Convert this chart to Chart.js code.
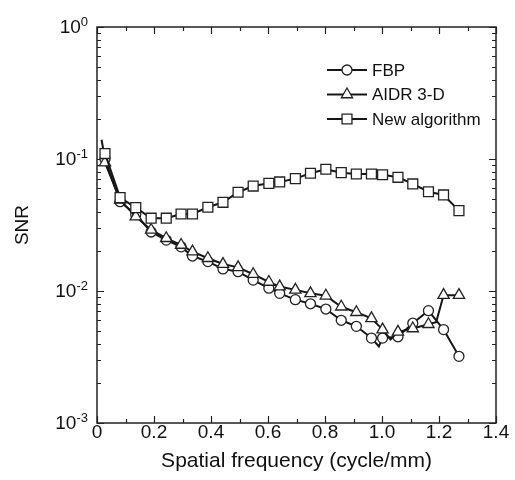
<!DOCTYPE html>
<html>
<head>
<meta charset="utf-8">
<script src="https://cdn.jsdelivr.net/npm/chart.js@4.4.1/dist/chart.umd.min.js"></script>
<style>
  html, body { margin: 0; padding: 0; background: #fff; }
  #wrap { width: 515px; height: 480px; }
</style>
</head>
<body>
<div id="wrap"><canvas id="snrChart" width="515" height="480"></canvas></div>
<script>
// spatial frequency of the marked points (cycle/mm)
var freq = [0.028, 0.081, 0.136, 0.19, 0.243, 0.295, 0.335, 0.389, 0.442, 0.495, 0.548, 0.603, 0.641,
            0.696, 0.749, 0.803, 0.857, 0.91, 0.963, 1.002, 1.056, 1.108, 1.163, 1.216, 1.27];

var snrFBP = [0.10, 0.0475, 0.038, 0.028, 0.0243, 0.0216, 0.0184, 0.0167, 0.0147, 0.014, 0.0121, 0.0105, 0.0096,
              0.0086, 0.0080, 0.0073, 0.0060, 0.0054, 0.0044, 0.0044, 0.0045, 0.0057, 0.0071, 0.0051, 0.0032];
var snrAIDR = [0.094, 0.049, 0.0366, 0.029, 0.0251, 0.0223, 0.0199, 0.0177, 0.016, 0.0151, 0.0134, 0.0117, 0.0108,
               0.0102, 0.0096, 0.0092, 0.0076, 0.0069, 0.0062, 0.0051, 0.0049, 0.0052, 0.0056, 0.0093, 0.0093];
var snrNew = [0.110, 0.051, 0.0428, 0.0356, 0.0356, 0.0383, 0.0383, 0.0431, 0.047, 0.056, 0.0624, 0.0654, 0.067,
              0.071, 0.078, 0.0836, 0.0788, 0.077, 0.077, 0.076, 0.0727, 0.0647, 0.0565, 0.0534, 0.0406];

// points on the curves that carry no marker
var fbpExtraX = [0.016, 0.989];
var fbpExtraY = [0.14, 0.0038];
var aidrExtraX = [1.03, 1.19];
var aidrExtraY = [0.0043, 0.0058];

var xTicks = [0, 0.2, 0.4, 0.6, 0.8, 1, 1.2, 1.4];
var yDecades = [0, -1, -2, -3];

var seriesNames = ["FBP", "AIDR 3-D", "New algorithm"];
var seriesMarkers = ["circle", "triangle", "rect"];
var markerSize = { circle: 5, triangle: 6.5, rect: 7 };

function buildPoints(xs, ys, exX, exY) {
    var pts = [];
    for (var i = 0; i < xs.length; i++) {
        pts.push({ x: xs[i], y: ys[i], extra: false });
    }
    for (var j = 0; j < exX.length; j++) {
        pts.push({ x: exX[j], y: exY[j], extra: true });
    }
    pts.sort(function (a, b) { return a.x - b.x; });
    return pts;
}

function makeSet(label, pts, style, order) {
    return {
        label: label,
        data: pts,
        order: order,
        borderColor: "#161616",
        borderWidth: 2,
        tension: 0,
        pointStyle: style,
        pointBackgroundColor: "#ffffff",
        pointBorderColor: "#222222",
        pointBorderWidth: 1.3,
        pointRadius: function (ctx) {
            return ctx.raw && ctx.raw.extra ? 0 : markerSize[style];
        },
        pointHoverRadius: 0
    };
}

var frameAndTicks = {
    id: "frameAndTicks",
    beforeDatasetsDraw: function (chart) {
        var ctx = chart.ctx;
        var a = chart.chartArea;
        var xs = chart.scales.x;
        var ys = chart.scales.y;
        ctx.save();
        ctx.strokeStyle = "#222";
        ctx.lineWidth = 1.2;
        ctx.beginPath();
        // x ticks, inward on bottom and top
        for (var v = 0; v <= 14; v++) {
            var px = Math.round(xs.getPixelForValue(v / 10)) + 0.5;
            var len = v % 2 === 0 ? 7 : 4;
            ctx.moveTo(px, a.bottom); ctx.lineTo(px, a.bottom - len);
            ctx.moveTo(px, a.top); ctx.lineTo(px, a.top + len);
        }
        // y ticks, inward on left and right
        for (var d = -3; d <= 0; d++) {
            for (var m = 1; m <= 9; m++) {
                if (d === 0 && m > 1) break;
                var py = Math.round(ys.getPixelForValue(m * Math.pow(10, d))) + 0.5;
                var l2 = m === 1 ? 7 : 4;
                ctx.moveTo(a.left, py); ctx.lineTo(a.left + l2, py);
                ctx.moveTo(a.right, py); ctx.lineTo(a.right - l2, py);
            }
        }
        ctx.stroke();
        ctx.lineWidth = 1.5;
        ctx.strokeRect(a.left, a.top, a.right - a.left, a.bottom - a.top);

        // y tick labels as powers of ten
        ctx.fillStyle = "#111";
        ctx.textAlign = "right";
        ctx.textBaseline = "alphabetic";
        yDecades.forEach(function (k) {
            var y = ys.getPixelForValue(Math.pow(10, k));
            var sup = String(k);
            ctx.font = "13px 'Liberation Sans', Arial, sans-serif";
            var sw = ctx.measureText(sup).width;
            ctx.fillText(sup, 88, y - 1);
            ctx.font = "19px 'Liberation Sans', Arial, sans-serif";
            ctx.fillText("10", 88 - sw, y + 6);
        });
        ctx.restore();
    }
};

var lineLegend = {
    id: "lineLegend",
    afterDatasetsDraw: function (chart) {
        var ctx = chart.ctx;
        var a = chart.chartArea;
        var rows = [43, 67.5, 92];
        ctx.save();
        for (var i = 0; i < seriesNames.length; i++) {
            var y = a.top + rows[i];
            ctx.strokeStyle = "#161616";
            ctx.lineWidth = 2;
            ctx.beginPath();
            ctx.moveTo(a.left + 230, y);
            ctx.lineTo(a.left + 270, y);
            ctx.stroke();
            ctx.fillStyle = "#ffffff";
            ctx.strokeStyle = "#222222";
            ctx.lineWidth = 1.3;
            Chart.helpers.drawPoint(ctx, {
                pointStyle: seriesMarkers[i],
                radius: markerSize[seriesMarkers[i]],
                rotation: 0,
                borderWidth: 1.3
            }, a.left + 250, y);
            ctx.fillStyle = "#111";
            ctx.font = "17px 'Liberation Sans', Arial, sans-serif";
            ctx.textAlign = "left";
            ctx.textBaseline = "middle";
            ctx.fillText(seriesNames[i], a.left + 275, y + 1);
        }
        ctx.restore();
    }
};

var chart = new Chart(document.getElementById("snrChart"), {
    type: "line",
    data: {
        datasets: [
            makeSet(seriesNames[0], buildPoints(freq, snrFBP, fbpExtraX, fbpExtraY), "circle", 2),
            makeSet(seriesNames[1], buildPoints(freq, snrAIDR, aidrExtraX, aidrExtraY), "triangle", 1),
            makeSet(seriesNames[2], buildPoints(freq, snrNew, [], []), "rect", 0)
        ]
    },
    options: {
        responsive: false,
        animation: false,
        layout: { padding: { top: 27, right: 19, bottom: 0, left: 0 } },
        plugins: {
            legend: { display: false },
            tooltip: { enabled: false }
        },
        scales: {
            x: {
                type: "linear",
                min: 0,
                max: 1.4,
                afterFit: function (scale) { scale.height = 57; },
                afterBuildTicks: function (scale) {
                    scale.ticks = xTicks.map(function (v) { return { value: v }; });
                },
                grid: { display: false, drawTicks: false },
                border: { display: false },
                ticks: {
                    color: "#111",
                    padding: 0,
                    maxRotation: 0,
                    font: { family: "'Liberation Sans', Arial, sans-serif", size: 19, lineHeight: 1.0 }
                },
                title: {
                    display: true,
                    text: "Spatial frequency (cycle/mm)",
                    color: "#111",
                    padding: { top: 0, bottom: 6 },
                    font: { family: "'Liberation Sans', Arial, sans-serif", size: 21 }
                }
            },
            y: {
                type: "logarithmic",
                min: 0.001,
                max: 1,
                afterFit: function (scale) { scale.width = 97; },
                grid: { display: false, drawTicks: false },
                border: { display: false },
                ticks: { display: false },
                title: {
                    display: true,
                    text: "SNR",
                    color: "#111",
                    padding: { top: 11, bottom: 0 },
                    font: { family: "'Liberation Sans', Arial, sans-serif", size: 19 }
                }
            }
        }
    },
    plugins: [frameAndTicks, lineLegend]
});
</script>
</body>
</html>
